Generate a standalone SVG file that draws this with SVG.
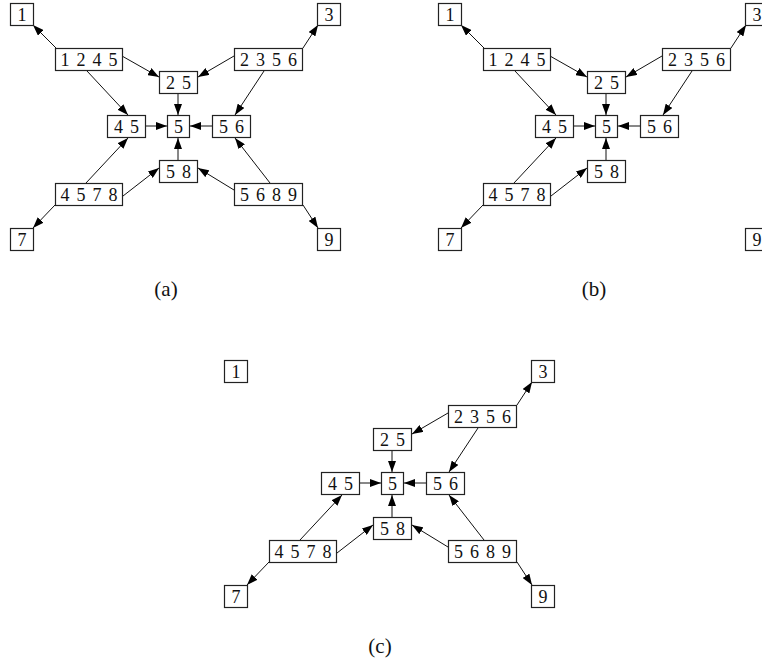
<svg xmlns="http://www.w3.org/2000/svg" width="762" height="660" viewBox="0 0 762 660">
<style>
.node rect{fill:#fff;stroke:#222;stroke-width:1.2}
.node text{font-family:"Liberation Serif","Times New Roman",serif;font-size:18px;text-anchor:middle;word-spacing:2.5px;fill:#111}
.edges line{stroke:#111;stroke-width:1;marker-end:url(#ah)}
.cap{font-family:"Liberation Serif","Times New Roman",serif;font-size:21px;text-anchor:middle;fill:#111}
</style>
<defs>
<marker id="ah" viewBox="0 0 11 8" refX="11" refY="4" markerWidth="11" markerHeight="8" markerUnits="userSpaceOnUse" orient="auto">
<path d="M0,0 L11,4 L0,8 z" fill="#000"/>
</marker>
</defs>
<rect width="762" height="660" fill="#fff"/>

<!-- Panel (a) -->
<g id="panel-a">
<g class="edges" id="a-edges">
<line x1="56" y1="48" x2="33" y2="25"/>
<line x1="122" y1="56" x2="159" y2="77"/>
<line x1="87" y1="71" x2="128" y2="115"/>
<line x1="303" y1="48" x2="318" y2="25"/>
<line x1="234" y1="56" x2="198" y2="77"/>
<line x1="264" y1="71" x2="235" y2="115"/>
<line x1="178" y1="93" x2="178" y2="115"/>
<line x1="145" y1="126" x2="167" y2="126"/>
<line x1="212" y1="126" x2="190" y2="126"/>
<line x1="178" y1="160" x2="178" y2="138"/>
<line x1="86" y1="183" x2="128" y2="138"/>
<line x1="123" y1="196" x2="159" y2="168"/>
<line x1="55" y1="205" x2="33" y2="228"/>
<line x1="270" y1="183" x2="235" y2="138"/>
<line x1="234" y1="190" x2="198" y2="168"/>
<line x1="303" y1="205" x2="318" y2="228"/>
</g>
<g id="a-n1" class="node"><rect x="10.5" y="3.5" width="23" height="22"/><text x="22" y="21">1</text></g>
<g id="a-n3" class="node"><rect x="317.5" y="3.5" width="23" height="22"/><text x="329" y="21">3</text></g>
<g id="a-n1245" class="node"><rect x="55.5" y="48.5" width="67" height="22"/><text x="89" y="66">1 2 4 5</text></g>
<g id="a-n2356" class="node"><rect x="234.5" y="48.5" width="68" height="22"/><text x="268.5" y="66">2 3 5 6</text></g>
<g id="a-n25" class="node"><rect x="159.5" y="71.5" width="38" height="22"/><text x="178.5" y="89">2 5</text></g>
<g id="a-n45" class="node"><rect x="107.5" y="115.5" width="38" height="22"/><text x="126.5" y="133">4 5</text></g>
<g id="a-n5" class="node"><rect x="167.5" y="115.5" width="22" height="22"/><text x="178.5" y="133">5</text></g>
<g id="a-n56" class="node"><rect x="212.5" y="115.5" width="38" height="22"/><text x="231.5" y="133">5 6</text></g>
<g id="a-n58" class="node"><rect x="159.5" y="160.5" width="38" height="22"/><text x="178.5" y="178">5 8</text></g>
<g id="a-n4578" class="node"><rect x="55.5" y="183.5" width="67" height="22"/><text x="89" y="201">4 5 7 8</text></g>
<g id="a-n5689" class="node"><rect x="234.5" y="183.5" width="68" height="22"/><text x="268.5" y="201">5 6 8 9</text></g>
<g id="a-n7" class="node"><rect x="10.5" y="228.5" width="23" height="22"/><text x="22" y="246">7</text></g>
<g id="a-n9" class="node"><rect x="317.5" y="228.5" width="23" height="22"/><text x="329" y="246">9</text></g>
<text class="cap" x="166" y="296">(a)</text>
</g>

<!-- Panel (b) -->
<g id="panel-b" transform="translate(428,0)">
<g class="edges" id="b-edges">
<line x1="56" y1="48" x2="33" y2="25"/>
<line x1="122" y1="56" x2="159" y2="77"/>
<line x1="87" y1="71" x2="128" y2="115"/>
<line x1="303" y1="48" x2="318" y2="25"/>
<line x1="234" y1="56" x2="198" y2="77"/>
<line x1="264" y1="71" x2="235" y2="115"/>
<line x1="178" y1="93" x2="178" y2="115"/>
<line x1="145" y1="126" x2="167" y2="126"/>
<line x1="212" y1="126" x2="190" y2="126"/>
<line x1="178" y1="160" x2="178" y2="138"/>
<line x1="86" y1="183" x2="128" y2="138"/>
<line x1="123" y1="196" x2="159" y2="168"/>
<line x1="55" y1="205" x2="33" y2="228"/>
</g>
<g id="b-n1" class="node"><rect x="10.5" y="3.5" width="23" height="22"/><text x="22" y="21">1</text></g>
<g id="b-n3" class="node"><rect x="317.5" y="3.5" width="23" height="22"/><text x="329" y="21">3</text></g>
<g id="b-n1245" class="node"><rect x="55.5" y="48.5" width="67" height="22"/><text x="89" y="66">1 2 4 5</text></g>
<g id="b-n2356" class="node"><rect x="234.5" y="48.5" width="68" height="22"/><text x="268.5" y="66">2 3 5 6</text></g>
<g id="b-n25" class="node"><rect x="159.5" y="71.5" width="38" height="22"/><text x="178.5" y="89">2 5</text></g>
<g id="b-n45" class="node"><rect x="107.5" y="115.5" width="38" height="22"/><text x="126.5" y="133">4 5</text></g>
<g id="b-n5" class="node"><rect x="167.5" y="115.5" width="22" height="22"/><text x="178.5" y="133">5</text></g>
<g id="b-n56" class="node"><rect x="212.5" y="115.5" width="38" height="22"/><text x="231.5" y="133">5 6</text></g>
<g id="b-n58" class="node"><rect x="159.5" y="160.5" width="38" height="22"/><text x="178.5" y="178">5 8</text></g>
<g id="b-n4578" class="node"><rect x="55.5" y="183.5" width="67" height="22"/><text x="89" y="201">4 5 7 8</text></g>
<g id="b-n7" class="node"><rect x="10.5" y="228.5" width="23" height="22"/><text x="22" y="246">7</text></g>
<g id="b-n9" class="node"><rect x="317.5" y="228.5" width="23" height="22"/><text x="329" y="246">9</text></g>
<text class="cap" x="166" y="296">(b)</text>
</g>

<!-- Panel (c) -->
<g id="panel-c" transform="translate(214,357)">
<g class="edges" id="c-edges">
<line x1="303" y1="48" x2="318" y2="25"/>
<line x1="234" y1="56" x2="198" y2="77"/>
<line x1="264" y1="71" x2="235" y2="115"/>
<line x1="178" y1="93" x2="178" y2="115"/>
<line x1="145" y1="126" x2="167" y2="126"/>
<line x1="212" y1="126" x2="190" y2="126"/>
<line x1="178" y1="160" x2="178" y2="138"/>
<line x1="86" y1="183" x2="128" y2="138"/>
<line x1="123" y1="196" x2="159" y2="168"/>
<line x1="55" y1="205" x2="33" y2="228"/>
<line x1="270" y1="183" x2="235" y2="138"/>
<line x1="234" y1="190" x2="198" y2="168"/>
<line x1="303" y1="205" x2="318" y2="228"/>
</g>
<g id="c-n1" class="node"><rect x="10.5" y="3.5" width="23" height="22"/><text x="22" y="21">1</text></g>
<g id="c-n3" class="node"><rect x="317.5" y="3.5" width="23" height="22"/><text x="329" y="21">3</text></g>
<g id="c-n2356" class="node"><rect x="234.5" y="48.5" width="68" height="22"/><text x="268.5" y="66">2 3 5 6</text></g>
<g id="c-n25" class="node"><rect x="159.5" y="71.5" width="38" height="22"/><text x="178.5" y="89">2 5</text></g>
<g id="c-n45" class="node"><rect x="107.5" y="115.5" width="38" height="22"/><text x="126.5" y="133">4 5</text></g>
<g id="c-n5" class="node"><rect x="167.5" y="115.5" width="22" height="22"/><text x="178.5" y="133">5</text></g>
<g id="c-n56" class="node"><rect x="212.5" y="115.5" width="38" height="22"/><text x="231.5" y="133">5 6</text></g>
<g id="c-n58" class="node"><rect x="159.5" y="160.5" width="38" height="22"/><text x="178.5" y="178">5 8</text></g>
<g id="c-n4578" class="node"><rect x="55.5" y="183.5" width="67" height="22"/><text x="89" y="201">4 5 7 8</text></g>
<g id="c-n5689" class="node"><rect x="234.5" y="183.5" width="68" height="22"/><text x="268.5" y="201">5 6 8 9</text></g>
<g id="c-n7" class="node"><rect x="10.5" y="228.5" width="23" height="22"/><text x="22" y="246">7</text></g>
<g id="c-n9" class="node"><rect x="317.5" y="228.5" width="23" height="22"/><text x="329" y="246">9</text></g>
<text class="cap" x="166" y="296">(c)</text>
</g>
</svg>
